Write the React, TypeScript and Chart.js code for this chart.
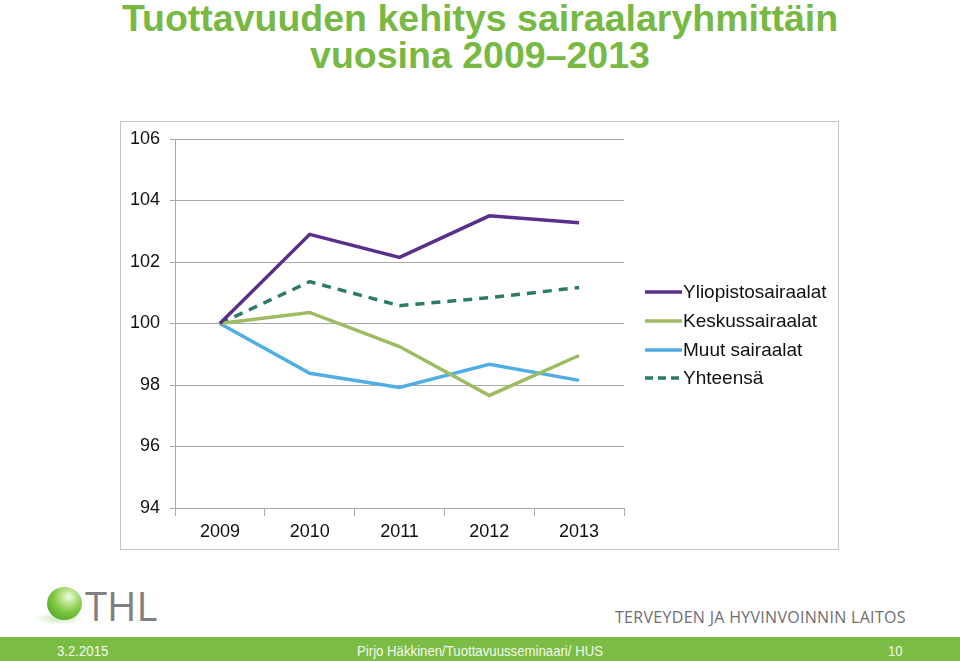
import React, { useEffect, useRef } from "react";
import { Chart, registerables } from "chart.js";

Chart.register(...registerables);

const years = ["2009", "2010", "2011", "2012", "2013"];
const yliopisto = [100, 102.9, 102.15, 103.5, 103.28];
const keskus = [100, 100.36, 99.25, 97.66, 98.96];
const muut = [100, 98.38, 97.92, 98.67, 98.15];
const yhteensa = [100, 101.36, 100.58, 100.84, 101.17];
const seriesNames = ["Yliopistosairaalat", "Keskussairaalat", "Muut sairaalat", "Yhteensä"];
const seriesColors = ["#58308c", "#9dbb61", "#4faee3", "#2c7a6a"];
const yTicks = [94, 96, 98, 100, 102, 104, 106];

const titleLines = ["Tuottavuuden kehitys sairaalaryhmittäin", "vuosina 2009–2013"];
const footerLeft = "3.2.2015";
const footerCenter = "Pirjo Häkkinen/Tuottavuusseminaari/ HUS";
const footerRight = "10";
const orgName = "TERVEYDEN JA HYVINVOINNIN LAITOS";

const GRID = "#a9a9a9";

export default function App() {
  const ref = useRef<HTMLCanvasElement>(null);
  useEffect(() => {
    const values = [yliopisto, keskus, muut, yhteensa];
    const chart = new Chart(ref.current!, {
      type: "line",
      data: {
        labels: years,
        datasets: values.map((v, i) => ({
          label: seriesNames[i],
          data: v,
          borderColor: seriesColors[i],
          backgroundColor: seriesColors[i],
          borderWidth: 3.5,
          borderDash: i === 3 ? [9, 7] : [],
          pointRadius: 0,
          tension: 0,
          fill: false,
        })),
      },
      options: {
        animation: false,
        responsive: false,
        layout: { padding: { top: 17, right: 214, left: 0, bottom: 0 } },
        plugins: { legend: { display: false }, tooltip: { enabled: false } },
        scales: {
          x: {
            offset: true,
            afterFit: (s: any) => {
              s.height = 41;
              s.paddingLeft = 0;
              s.paddingRight = 0;
            },
            grid: {
              offset: true,
              color: (ctx: any) => (ctx.index === years.length ? GRID : "rgba(0,0,0,0)"),
              tickColor: GRID,
              tickLength: 8,
              lineWidth: 1,
            },
            border: { color: GRID, width: 1 },
            ticks: {
              color: "#111",
              font: { family: "Liberation Sans, Arial, sans-serif", size: 18 },
              padding: 5,
              maxRotation: 0,
            },
          },
          y: {
            min: yTicks[0],
            max: yTicks[yTicks.length - 1],
            afterFit: (s: any) => {
              s.width = 54;
              s.paddingTop = 0;
              s.paddingBottom = 0;
            },
            afterBuildTicks: (s: any) => {
              s.ticks = yTicks.map((v) => ({ value: v }));
            },
            grid: { color: GRID, tickColor: GRID, tickLength: 5, lineWidth: 1 },
            border: { color: GRID, width: 1 },
            ticks: {
              color: "#111",
              font: { family: "Liberation Sans, Arial, sans-serif", size: 18 },
              padding: 10,
            },
          },
        },
      },
    });
    return () => chart.destroy();
  }, []);

  const narrow = "'Liberation Sans', Arial, sans-serif";

  return (
    <div
      style={{
        position: "fixed",
        left: 0,
        top: 0,
        width: 960,
        height: 661,
        background: "#fff",
        overflow: "hidden",
        fontFamily: "'Liberation Sans', Arial, sans-serif",
      }}
    >
      {/* Title */}
      <div
        style={{
          position: "absolute",
          left: 0,
          top: 0,
          width: 960,
          textAlign: "center",
          color: "#78b944",
          fontWeight: "bold",
          fontSize: 37.5,
          lineHeight: "36.5px",
        }}
      >
        {titleLines.map((t, i) => (
          <div key={i}>{t}</div>
        ))}
      </div>

      {/* Chart box */}
      <div
        style={{
          position: "absolute",
          left: 120,
          top: 121,
          width: 717,
          height: 427,
          border: "1px solid #c4c4c4",
        }}
      />
      <canvas
        ref={ref}
        width={717}
        height={427}
        style={{ position: "absolute", left: 121, top: 122, width: 717, height: 427 }}
      />

      {/* Legend */}
      <div style={{ position: "absolute", left: 645, top: 278 }}>
        {seriesNames.map((n, i) => (
          <div key={n} style={{ display: "flex", alignItems: "center", height: 28.7 }}>
            <svg width={37} height={6} style={{ display: "block" }}>
              <line
                x1={0}
                y1={3}
                x2={37}
                y2={3}
                stroke={seriesColors[i]}
                strokeWidth={3.5}
                strokeDasharray={i === 3 ? "8 5" : undefined}
              />
            </svg>
            <span style={{ fontSize: 19, color: "#111", marginLeft: 1 }}>{n}</span>
          </div>
        ))}
      </div>

      {/* Logo */}
      <div
        style={{
          position: "absolute",
          left: 34,
          top: 612,
          width: 50,
          height: 13,
          borderRadius: "50%",
          background: "radial-gradient(ellipse at center, rgba(140,200,90,0.45), rgba(255,255,255,0) 70%)",
        }}
      />
      <div
        style={{
          position: "absolute",
          left: 47,
          top: 587,
          width: 35,
          height: 33,
          borderRadius: "50%",
          background: "radial-gradient(circle at 62% 30%, #f4fbec 0%, #c4e89a 18%, #7cc53e 50%, #3e9a1e 100%)",
        }}
      />
      <div
        style={{
          position: "absolute",
          left: 85,
          top: 582,
          fontFamily: "'Open Sans', sans-serif",
          fontSize: 40,
          color: "#808080",
          lineHeight: "48px",
        }}
      >
        THL
      </div>
      <div
        style={{
          position: "absolute",
          left: 615,
          top: 607,
          fontFamily: "'Open Sans', sans-serif",
          fontSize: 16,
          color: "#6e6e6e",
          letterSpacing: 0.3,
          lineHeight: "20px",
        }}
      >
        {orgName}
      </div>

      {/* Footer bar */}
      <div
        style={{
          position: "absolute",
          left: 0,
          top: 637,
          width: 960,
          height: 24,
          background: "#7bbd44",
          color: "#f4f8ee",
          fontFamily: narrow,
          fontSize: 15,
        }}
      >
        <div style={{ position: "absolute", left: 57, top: 5, transform: "scaleX(0.88)", transformOrigin: "left" }}>
          {footerLeft}
        </div>
        <div
          style={{
            position: "absolute",
            left: 0,
            width: 960,
            top: 5,
            textAlign: "center",
            transform: "scaleX(0.88)",
            transformOrigin: "center",
          }}
        >
          {footerCenter}
        </div>
        <div style={{ position: "absolute", left: 888, top: 5, transform: "scaleX(0.88)", transformOrigin: "left" }}>
          {footerRight}
        </div>
      </div>
    </div>
  );
}
